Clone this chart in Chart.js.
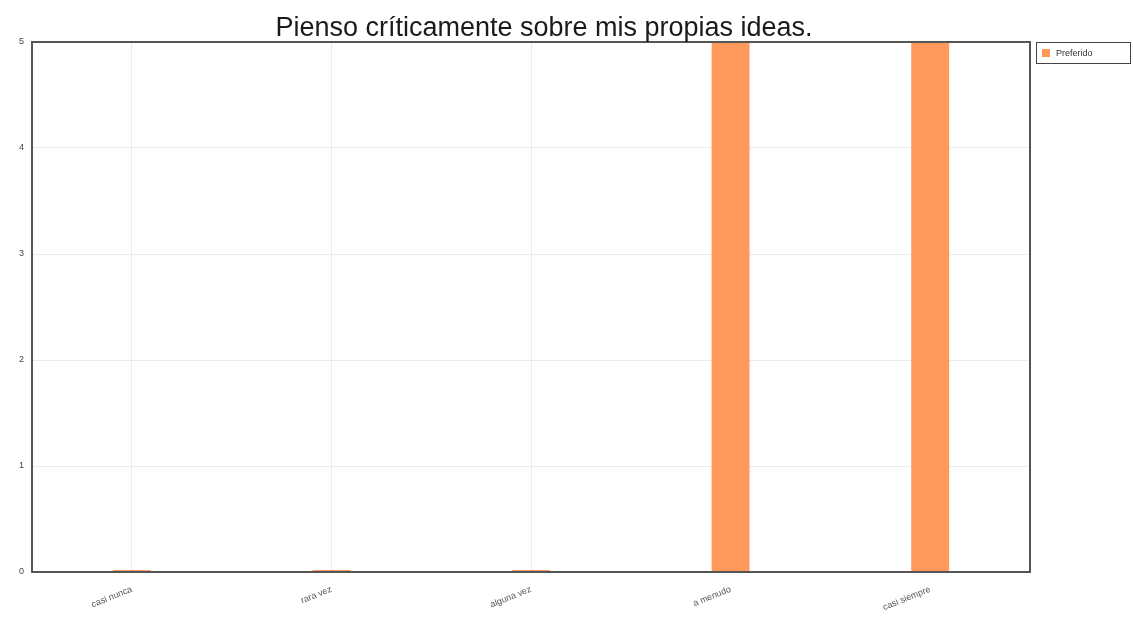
<!DOCTYPE html>
<html>
<head>
<meta charset="utf-8">
<script src="https://cdn.jsdelivr.net/npm/chart.js@4/dist/chart.umd.min.js"></script>
<style>
  html, body { margin: 0; padding: 0; background: #fff; }
  #wrap { width: 1133px; height: 621px; }
</style>
</head>
<body>
<div id="wrap"><canvas id="c"></canvas></div>
<script>
const titleText = 'Pienso críticamente sobre mis propias ideas.';
const labels = ['casi nunca', 'rara vez', 'alguna vez', 'a menudo', 'casi siempre'];
const values = [0, 0, 0, 5, 5];
const seriesName = 'Preferido';
const yTicks = [0, 1, 2, 3, 4, 5];

const barColor = '#ff9a5c';

// frame, title over the plot, and boxed legend
const decor = {
  id: 'decor',
  afterDraw(chart) {
    const { ctx, chartArea: a } = chart;
    ctx.save();
    ctx.strokeStyle = '#555';
    ctx.lineWidth = 2;
    ctx.strokeRect(a.left, a.top, a.right - a.left, a.bottom - a.top);

    ctx.fillStyle = '#1a1a1a';
    ctx.font = '27px "Liberation Sans", Arial, sans-serif';
    ctx.textAlign = 'center';
    ctx.textBaseline = 'alphabetic';
    ctx.fillText(titleText, (a.left + a.right) / 2 + 13, 36);

    // legend
    const lx = 1036, ly = 42, lw = 94, lh = 21;
    ctx.lineWidth = 1;
    ctx.strokeStyle = '#444';
    ctx.strokeRect(lx + 0.5, ly + 0.5, lw, lh);
    ctx.fillStyle = chart.data.datasets[0].backgroundColor;
    ctx.fillRect(lx + 6, ly + 7, 8, 8);
    ctx.fillStyle = '#333';
    ctx.font = '9px "Liberation Sans", Arial, sans-serif';
    ctx.textAlign = 'left';
    ctx.textBaseline = 'middle';
    ctx.fillText(chart.data.datasets[0].label, lx + 20, ly + 11.5);
    ctx.restore();
  }
};

new Chart(document.getElementById('c'), {
  type: 'bar',
  data: {
    labels: labels,
    datasets: [{
      label: seriesName,
      data: values,
      backgroundColor: barColor,
      borderWidth: 0,
      minBarLength: 2,
      categoryPercentage: 1,
      barPercentage: 0.19
    }]
  },
  options: {
    responsive: true,
    maintainAspectRatio: false,
    animation: false,
    layout: { padding: { top: 42, right: 103, left: 4, bottom: 0 } },
    plugins: {
      legend: { display: false },
      title: { display: false },
      tooltip: { enabled: false }
    },
    scales: {
      x: {
        grid: { color: '#ececec', offset: false, drawTicks: false },
        border: { display: false },
        ticks: {
          color: '#555',
          font: { size: 9, family: '"Liberation Sans", Arial, sans-serif' },
          minRotation: 22,
          maxRotation: 22,
          padding: 12
        },
        afterFit(s) { s.height = 49; }
      },
      y: {
        min: 0,
        max: 5,
        afterBuildTicks(s) { s.ticks = yTicks.map(v => ({ value: v })); },
        grid: { color: '#ececec', drawTicks: false },
        border: { display: false },
        ticks: {
          color: '#444',
          font: { size: 9, family: '"Liberation Sans", Arial, sans-serif' },
          padding: 8
        },
        afterFit(s) { s.width = 28; }
      }
    }
  },
  plugins: [decor]
});
</script>
</body>
</html>
